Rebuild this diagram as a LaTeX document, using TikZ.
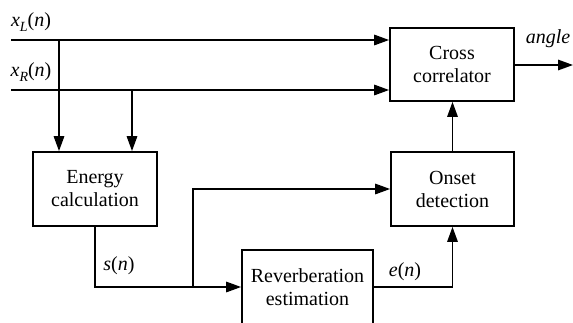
\documentclass[tikz,border=0pt]{standalone}
\usepackage{fontspec}
\setmainfont{Liberation Serif}
\usetikzlibrary{arrows.meta}
\begin{document}
\begin{tikzpicture}[x=1pt,y=-1pt,font=\fontsize{20}{23}\selectfont,
  blk/.style={draw,line width=1.8pt,align=center,inner sep=0pt},
  arr/.style={line width=1.6pt,-{Triangle[length=15pt,width=10.5pt]}},
  lbl/.style={inner sep=0pt}]
\useasboundingbox (0,0) rectangle (573,322);
\node[blk,minimum width=124pt,minimum height=74pt] (energy) at (95,189) {Energy\\calculation};
\node[blk,minimum width=123pt,minimum height=74pt] (onset) at (452.5,189) {Onset\\detection};
\node[blk,minimum width=124pt,minimum height=73pt] (cross) at (452,64.5) {Cross\\correlator};
\node[blk,minimum width=131pt,minimum height=74pt] (rev) at (307.5,287) {Reverberation\\estimation};
\coordinate (xl) at (11,40);
\coordinate (xr) at (11,90);
\coordinate (d1) at (59,40);
\coordinate (d2) at (132,90);
\coordinate (br) at (193,287);
\coordinate (out) at (573,65);
\draw[arr] (xl) -- (cross.west |- xl);
\draw[arr] (xr) -- (cross.west |- xr);
\draw[arr] (d1) -- (d1 |- energy.north);
\draw[arr] (d2) -- (d2 |- energy.north);
\draw[arr] (cross.east |- out) -- (out);
\draw[arr] (energy.south) |- (rev.west);
\draw[arr] (br) |- (onset.west);
\draw[arr] (rev.east) -| (onset.south);
\draw[arr] (onset.north) -- (onset.north |- cross.south);
\node[lbl] (lxl) at (31,22) {\textit{x}\raisebox{-5pt}{\fontsize{14}{16}\selectfont\textit{L}}(\textit{n})};
\node[lbl] (lxr) at (31,72) {\textit{x}\raisebox{-5pt}{\fontsize{14}{16}\selectfont\textit{R}}(\textit{n})};
\node[lbl] (lang) at (548,39) {\textit{angle}};
\node[lbl] (ls) at (119,266) {\textit{s}(\textit{n})};
\node[lbl] (le) at (405,272) {\textit{e}(\textit{n})};
\end{tikzpicture}
\end{document}
